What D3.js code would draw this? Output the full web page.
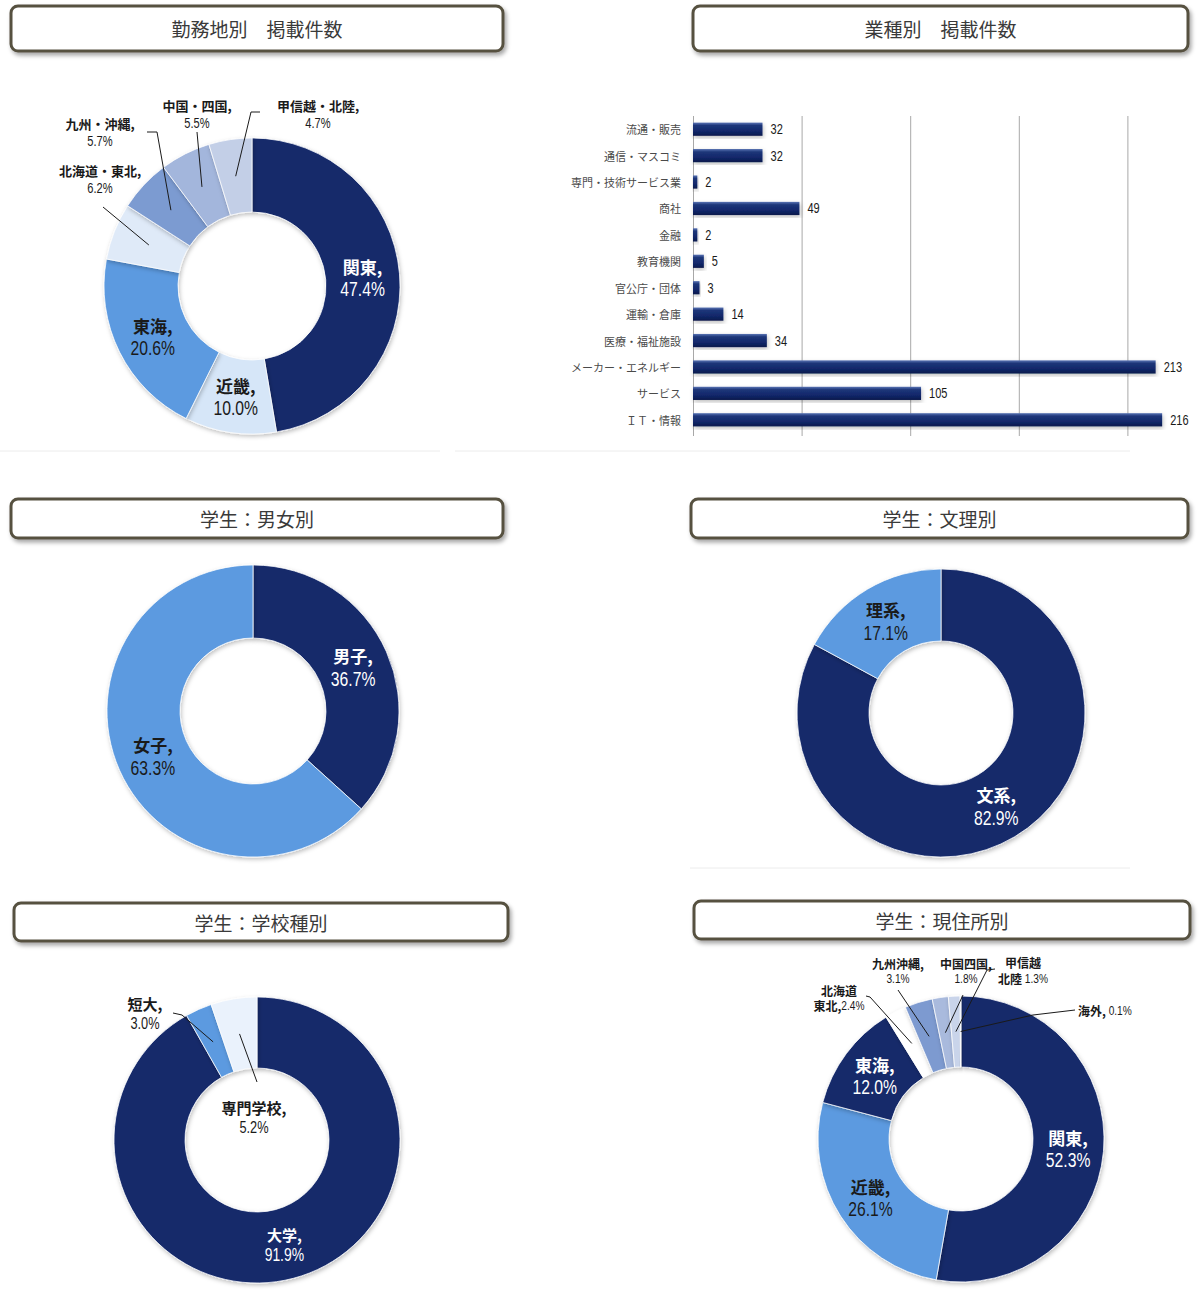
<!DOCTYPE html>
<html>
<head>
<meta charset="utf-8">
<script src="https://cdn.jsdelivr.net/npm/d3@7"></script>
<style>
  body { margin: 0; background: #fff; }
  svg { display: block; font-family: 'Noto Sans CJK JP', sans-serif; }
</style>
</head>
<body>
<svg id="chart"></svg>
<script>
// ---- data ----
const workRegions = ['関東', '近畿', '東海', '北海道・東北', '九州・沖縄', '中国・四国', '甲信越・北陸'];
const workShares = [47.4, 10.0, 20.6, 6.2, 5.7, 5.5, 4.7];

const industries = ['流通・販売', '通信・マスコミ', '専門・技術サービス業', '商社', '金融', '教育機関',
  '官公庁・団体', '運輸・倉庫', '医療・福祉施設', 'メーカー・エネルギー', 'サービス', 'ＩＴ・情報'];
const industryCounts = [32, 32, 2, 49, 2, 5, 3, 14, 34, 213, 105, 216];
const industryTicks = [0, 50, 100, 150, 200];

const genders = ['男子', '女子'];
const genderShares = [36.7, 63.3];

const majors = ['文系', '理系'];
const majorShares = [82.9, 17.1];

const schools = ['大学', '短大', '専門学校'];
const schoolShares = [91.9, 3.0, 5.2];

const homeRegions = ['関東', '近畿', '東海', '北海道東北', '九州沖縄', '中国四国', '甲信越北陸', '海外'];
const homeShares = [52.3, 26.1, 12.0, 2.4, 3.1, 1.8, 1.3, 0.1];

const titles = ['勤務地別　掲載件数', '業種別　掲載件数', '学生：男女別', '学生：文理別', '学生：学校種別', '学生：現住所別'];

// ---- styles ----
const NAVY = '#14296b';
const BLUE = '#5b9ae0';
const PALE = '#d6e6f8';
const NUM_FONT = "'Liberation Sans Narrow','Arial Narrow','Liberation Sans',sans-serif";
const fmt = v => v.toFixed(1) + '%';

const svg = d3.select('#chart').attr('width', 1200).attr('height', 1300);

const defs = svg.append('defs');
defs.append('filter').attr('id', 'boxShadow').attr('x', '-5%').attr('y', '-30%').attr('width', '110%').attr('height', '170%')
  .append('feDropShadow').attr('dx', 2).attr('dy', 3).attr('stdDeviation', 2)
  .attr('flood-color', '#000').attr('flood-opacity', 0.35);
defs.append('filter').attr('id', 'pieShadow').attr('x', '-20%').attr('y', '-20%').attr('width', '140%').attr('height', '140%')
  .append('feDropShadow').attr('dx', 1).attr('dy', 2).attr('stdDeviation', 2)
  .attr('flood-color', '#000').attr('flood-opacity', 0.25);
const grad = defs.append('linearGradient').attr('id', 'barGrad')
  .attr('x1', 0).attr('y1', 0).attr('x2', 0).attr('y2', 1);
[['0%', '#5a74b4'], ['22%', '#1d3679'], ['65%', '#12276a'], ['100%', '#0a1a4c']].forEach(s => {
  grad.append('stop').attr('offset', s[0]).attr('stop-color', s[1]);
});

// faint separators from the pasted screenshots
[[0, 440, 451], [455, 1130, 451], [690, 1130, 868]].forEach(l => {
  svg.append('line').attr('x1', l[0]).attr('x2', l[1]).attr('y1', l[2]).attr('y2', l[2])
    .attr('stroke', '#ececec').attr('stroke-width', 1);
});

// squeeze a number horizontally so it looks like a narrow face
function narrow(sel, k) {
  sel.each(function () {
    const len = this.getComputedTextLength();
    d3.select(this).attr('textLength', (len * k).toFixed(1)).attr('lengthAdjust', 'spacingAndGlyphs');
  });
}

function drawTitle(box, text) {
  svg.append('rect')
    .attr('x', box[0]).attr('y', box[1]).attr('width', box[2]).attr('height', box[3])
    .attr('rx', 7).attr('fill', '#fff')
    .attr('stroke', '#575140').attr('stroke-width', 3)
    .attr('filter', 'url(#boxShadow)');
  svg.append('text')
    .attr('x', box[0] + box[2] / 2).attr('y', box[1] + box[3] / 2)
    .attr('text-anchor', 'middle').attr('dominant-baseline', 'central')
    .style('font-size', '19px').style('fill', '#3a3a3a')
    .text(text);
}

drawTitle([11, 6, 492, 45], titles[0]);
drawTitle([693, 6, 495, 45], titles[1]);
drawTitle([11, 499, 492, 39], titles[2]);
drawTitle([691, 499, 497, 39], titles[3]);
drawTitle([14, 903, 494, 38], titles[4]);
drawTitle([694, 901, 496, 38], titles[5]);

// default two-line label: "name," / "xx.x%"
function nameLines(name, v) {
  return [[[name + ',', true]], [[fmt(v), false]]];
}

function drawDonut(cfg) {
  const items = cfg.names.map((n, i) => ({ name: n, value: cfg.values[i], color: cfg.colors[i] }));
  const arcs = d3.pie().sort(null).value(d => d.value)(items);
  const arc = d3.arc().innerRadius(cfg.inner).outerRadius(cfg.outer);
  const midR = (cfg.inner + cfg.outer) / 2;
  const midArc = d3.arc().innerRadius(midR).outerRadius(midR);

  const g = svg.append('g').attr('transform', `translate(${cfg.cx},${cfg.cy})`);

  g.selectAll('path.slice').data(arcs).join('path')
    .attr('class', 'slice')
    .attr('d', arc)
    .attr('fill', d => d.data.color)
    .attr('stroke', '#fff').attr('stroke-opacity', 0.75).attr('stroke-width', 1)
    .attr('filter', 'url(#pieShadow)');

  arcs.forEach((a, i) => {
    const lab = cfg.labels[i];
    if (!lab) return;
    const c = midArc.centroid(a);
    const pos = lab.at || c;
    const lines = lab.lines || nameLines(a.data.name, a.data.value);
    const fill = lab.at ? '#1a1a1a' : (a.data.color === NAVY ? '#fff' : '#1a1a1a');
    const size = lab.size || cfg.size;
    const numScale = lab.at ? 1.12 : 1.22;

    if (lab.leader) {
      const pts = [c].concat(lab.leader);
      g.append('path')
        .attr('d', d3.line()(pts))
        .attr('fill', 'none').attr('stroke', '#1a1a1a').attr('stroke-width', 1);
    }

    const lh = lab.lh || cfg.lh;
    const y0 = lab.at ? pos[1] : pos[1] - lh * (lines.length - 1) / 2;
    const t = g.append('text')
      .attr('x', pos[0]).attr('y', y0)
      .attr('text-anchor', lab.anchor || 'middle')
      .attr('dominant-baseline', 'central')
      .style('font-size', size + 'px')
      .style('fill', fill);
    lines.forEach((parts, k) => {
      parts.forEach((p, j) => {
        const ts = t.append('tspan').text(p[0]);
        if (j === 0) ts.attr('x', pos[0]).attr('dy', k === 0 ? 0 : lh);
        if (p[1]) {
          ts.style('font-weight', 'bold');
        } else {
          ts.style('font-family', NUM_FONT).style('font-size', (size * numScale).toFixed(1) + 'px');
          narrow(ts, 0.76);
        }
      });
    });
  });
}

// 勤務地別
drawDonut({
  cx: 252, cy: 286, outer: 148, inner: 74, size: 17, lh: 22,
  names: workRegions, values: workShares,
  colors: [NAVY, PALE, BLUE, '#dfeaf8', '#7c9bd1', '#a3b6dc', '#c3cfe7'],
  labels: [
    {}, {}, {},
    { at: [-152, -116], size: 13, lh: 18, leader: [[-149, -79]] },
    { at: [-152, -163], size: 13, lh: 18, leader: [[-95, -154], [-105, -154]] },
    { at: [-55, -181], size: 13, lh: 18, leader: [[-55, -154]] },
    { at: [66, -181], size: 13, lh: 18, leader: [[-1, -174], [8, -174]] }
  ]
});

// 男女別
drawDonut({
  cx: 253, cy: 711, outer: 146, inner: 73, size: 17, lh: 23,
  names: genders, values: genderShares,
  colors: [NAVY, BLUE],
  labels: [{}, {}]
});

// 文理別
drawDonut({
  cx: 941, cy: 713, outer: 144, inner: 72, size: 17, lh: 23,
  names: majors, values: majorShares,
  colors: [NAVY, BLUE],
  labels: [{}, {}]
});

// 学校種別
drawDonut({
  cx: 257, cy: 1140, outer: 143, inner: 72, size: 15, lh: 20,
  names: schools, values: schoolShares,
  colors: [NAVY, BLUE, '#eaf2fc'],
  labels: [
    {},
    { at: [-112, -137], leader: [[-75, -125], [-84, -127]] },
    { at: [-3, -33], leader: [[0, -58]] }
  ]
});

// 現住所別
drawDonut({
  cx: 961, cy: 1139, outer: 143, inner: 72, size: 17, lh: 22,
  names: homeRegions, values: homeShares,
  colors: [NAVY, BLUE, NAVY, '#ffffff', '#7d9ad0', '#a9badd', '#c9d4ea', '#dde5f3'],
  labels: [
    {}, {}, {},
    { at: [-122, -149], size: 12, lh: 15, leader: [[-91, -142], [-95, -143]],
      lines: [[['北海道', true]], [['東北,', true], [fmt(homeShares[3]), false]]] },
    { at: [-63, -176], size: 12, lh: 15, leader: [[-63, -149]] },
    { at: [5, -176], size: 12, lh: 15, leader: [[2, -144]] },
    { at: [62, -177], size: 12, lh: 16, leader: [[26, -169], [34, -170]],
      lines: [[['甲信越', true]], [['北陸 ', true], [fmt(homeShares[6]), false]]] },
    { at: [117, -129], size: 12, lh: 15, anchor: 'start', leader: [[72, -124], [114, -129]],
      lines: [[['海外, ', true], [fmt(homeShares[7]), false]]] }
  ]
});

// 業種別 bar chart
const x = d3.scaleLinear().domain([0, 250]).range([693, 1236]);
const y = d3.scaleBand().domain(industries).range([116, 433]).paddingInner(0.5).paddingOuter(0.25);

svg.append('g')
  .attr('transform', 'translate(0,436)')
  .call(d3.axisBottom(x).tickValues(industryTicks).tickSize(-320).tickFormat(''))
  .call(g => g.select('.domain').remove())
  .call(g => g.selectAll('.tick line').attr('stroke', '#a8a8a8'));

svg.selectAll('rect.bar').data(industries).join('rect')
  .attr('class', 'bar')
  .attr('x', x(0))
  .attr('y', d => y(d))
  .attr('width', (d, i) => x(industryCounts[i]) - x(0))
  .attr('height', y.bandwidth())
  .attr('fill', 'url(#barGrad)')
  .attr('filter', 'url(#pieShadow)');

svg.selectAll('text.cat').data(industries).join('text')
  .attr('class', 'cat')
  .attr('x', 681)
  .attr('y', d => y(d) + y.bandwidth() / 2)
  .attr('text-anchor', 'end').attr('dominant-baseline', 'central')
  .style('font-size', '11px').style('fill', '#4a4a4a')
  .text(d => d);

svg.selectAll('text.val').data(industries).join('text')
  .attr('class', 'val')
  .attr('x', (d, i) => x(industryCounts[i]) + 8)
  .attr('y', d => y(d) + y.bandwidth() / 2)
  .attr('dominant-baseline', 'central')
  .style('font-size', '14.5px').style('font-family', NUM_FONT).style('fill', '#1a1a1a')
  .text((d, i) => industryCounts[i])
  .call(narrow, 0.76);
</script>
</body>
</html>
